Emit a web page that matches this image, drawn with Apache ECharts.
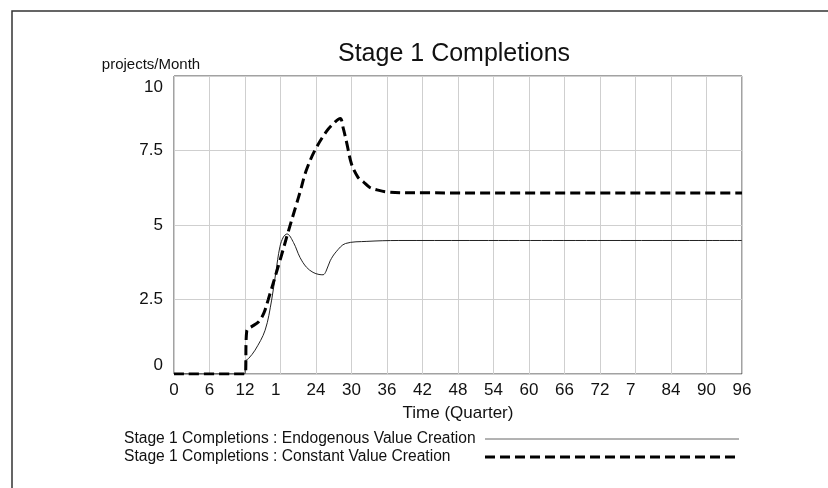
<!DOCTYPE html>
<html>
<head>
<meta charset="utf-8">
<script src="https://cdn.jsdelivr.net/npm/echarts@6/dist/echarts.min.js"></script>
<style>
html,body{margin:0;padding:0;background:#fff;}
#chart{width:828px;height:488px;}
</style>
</head>
<body>
<div id="chart"></div>
<script>
// ---- data ----
const chartTitle = 'Stage 1 Completions';
const yUnit = 'projects/Month';
const xTitle = 'Time (Quarter)';
const xTickLabels = ['0','6','12','1','24','30','36','42','48','54','60','66','72','7','84','90','96'];
const yTickLabels = ['0','2.5','5','7.5','10'];

const endoName = 'Stage 1 Completions : Endogenous Value Creation';
const endoTime = [0, 12, 12.05, 12.6, 13.7, 15.4, 16.5, 17.2, 17.9, 18.5, 19.1, 20.2, 21.3, 22.4, 23.5, 24.5, 25.2, 25.7, 26.4, 27.4, 29, 32.6, 38, 50, 96];
const endoValue = [0, 0, 0.42, 0.52, 0.8, 1.47, 2.48, 3.4, 4.27, 4.6, 4.7, 4.41, 3.91, 3.58, 3.41, 3.34, 3.33, 3.45, 3.8, 4.1, 4.38, 4.45, 4.48, 4.48, 4.48];

const constName = 'Stage 1 Completions : Constant Value Creation';
const constTime = [0, 12, 12.3, 13.2, 14.3, 15.2, 15.9, 17.9, 19.3, 20.7, 21.3, 22.3, 23.8, 25.8, 27.2, 28.1, 28.6, 29.2, 30, 31.1, 32, 33.1, 34.3, 36, 40, 96];
const constValue = [0, 0, 1.45, 1.6, 1.75, 2.05, 2.48, 3.8, 4.77, 5.7, 6.1, 6.8, 7.5, 8.15, 8.45, 8.57, 8.25, 7.75, 7.05, 6.6, 6.45, 6.26, 6.18, 6.11, 6.08, 6.07];

const pairs = (xs, ys) => xs.map((x, i) => [x, ys[i]]);

const FONT = '"Liberation Sans", Arial, sans-serif';
const chart = echarts.init(document.getElementById('chart'), null, {renderer: 'canvas'});

chart.setOption({
  backgroundColor: '#fff',
  animation: false,
  title: {
    text: chartTitle,
    left: 333,
    top: 37,
    textStyle: {fontFamily: FONT, fontSize: 25, fontWeight: 'normal', color: '#111'}
  },
  graphic: [{
    type: 'polyline',
    shape: {points: [[12, 490], [12, 11], [830, 11]]},
    style: {stroke: '#333', lineWidth: 1.5, fill: null}
  }],
  grid: {left: 174, right: 86, top: 76, bottom: 114, show: true, borderColor: '#444', borderWidth: 1},
  legend: {
    orient: 'vertical',
    left: 119,
    top: 426,
    align: 'right',
    itemGap: 2,
    itemWidth: 254,
    itemHeight: 14,
    formatter: function (name) { return '{l|' + name + '}'; },
    textStyle: {
      fontFamily: FONT, fontSize: 15.6, color: '#111', width: 356,
      rich: {l: {fontFamily: FONT, fontSize: 15.6, color: '#111', align: 'left'}}
    },
    data: [
      {name: endoName, lineStyle: {color: '#666', width: 1}, itemStyle: {color: 'rgba(0,0,0,0)', borderWidth: 0}},
      {name: constName, lineStyle: {color: '#000', width: 3, type: [10, 5]}, itemStyle: {color: 'rgba(0,0,0,0)', borderWidth: 0}}
    ]
  },
  xAxis: {
    type: 'value', min: 0, max: 96, interval: 6,
    name: xTitle, nameLocation: 'middle', nameGap: 31,
    nameTextStyle: {fontFamily: FONT, fontSize: 17, color: '#111'},
    axisLine: {show: false}, axisTick: {show: false},
    splitLine: {show: true, lineStyle: {color: '#cfcfcf', width: 1}},
    axisLabel: {
      fontFamily: FONT, fontSize: 17, color: '#111', margin: 8,
      formatter: function (v) {
        const idx = Math.round(v / 6);
        const lab = xTickLabels[idx];
        const full = String(v);
        if (lab !== full && full.indexOf(lab) === 0) {
          return lab + '{h|' + full.slice(lab.length) + '}';
        }
        return lab;
      },
      rich: {h: {color: 'rgba(0,0,0,0)', fontFamily: FONT, fontSize: 17}}
    }
  },
  yAxis: {
    type: 'value', min: 0, max: 10, interval: 2.5,
    name: yUnit, nameLocation: 'end', nameGap: 4,
    nameTextStyle: {fontFamily: FONT, fontSize: 15, color: '#111', align: 'center', padding: [0, 46, 0, 0]},
    axisLine: {show: false}, axisTick: {show: false},
    splitLine: {show: true, lineStyle: {color: '#cfcfcf', width: 1}},
    axisLabel: {
      fontFamily: FONT, fontSize: 17, color: '#111', margin: 11,
      formatter: function (v) {
        const lab = yTickLabels[Math.round(v / 2.5)];
        if (v === 10) return '{t|' + lab + '}';
        if (v === 0) return '{b|' + lab + '}';
        return lab;
      },
      rich: {
        t: {fontFamily: FONT, fontSize: 17, color: '#111', padding: [22, 0, 0, 0]},
        b: {fontFamily: FONT, fontSize: 17, color: '#111', padding: [0, 0, 18, 0]}
      }
    }
  },
  series: [
    {
      name: endoName, type: 'line', data: pairs(endoTime, endoValue),
      showSymbol: false, symbol: 'none', smooth: 0.35,
      lineStyle: {color: '#222', width: 1, type: 'solid'},
      itemStyle: {color: '#555'}, z: 3
    },
    {
      name: constName, type: 'line', data: pairs(constTime, constValue),
      showSymbol: false, symbol: 'none', smooth: 0.35,
      lineStyle: {color: '#000', width: 3, type: [10, 5]},
      itemStyle: {color: '#000'}, z: 4
    }
  ]
});
</script>
</body>
</html>
